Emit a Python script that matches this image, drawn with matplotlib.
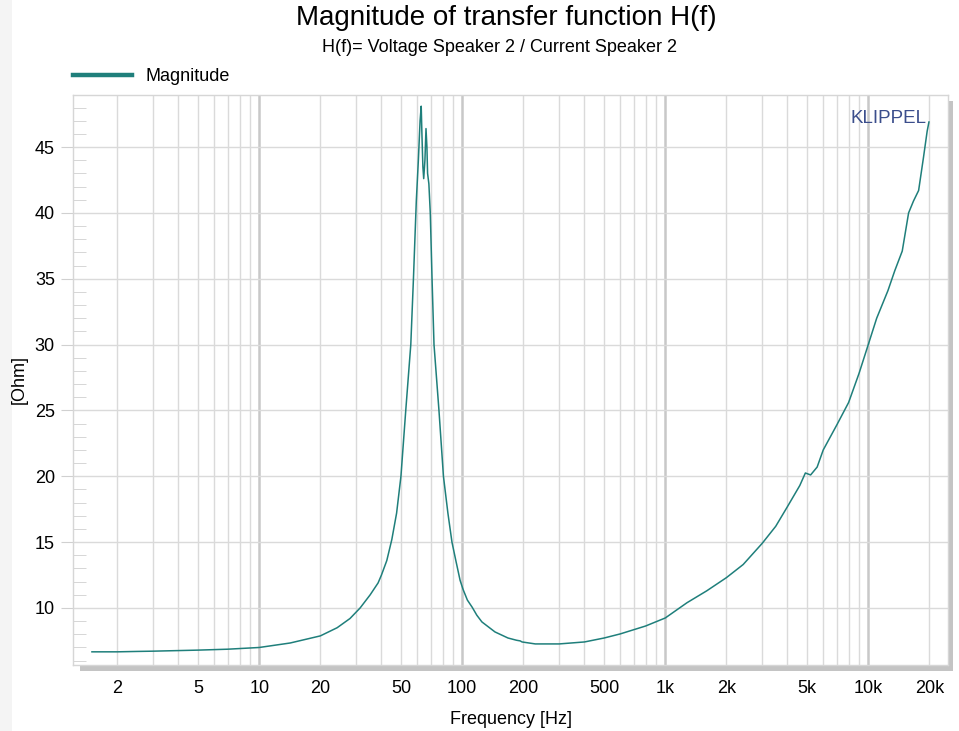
import matplotlib
matplotlib.use("Agg")
import matplotlib.pyplot as plt
from matplotlib.patches import Rectangle

plt.rcParams['font.family'] = ['Liberation Sans', 'DejaVu Sans']

# Impedance curve (Hz, Ohm)
freq = [1.5, 2, 2.5, 3, 5, 7, 10, 14.2, 20, 24.2, 28, 31.4, 35.2, 38.5, 40,
        42.5, 45, 47.5, 49.9, 52.7, 55.8, 57.5, 59.4, 60.8, 62, 62.8, 63.3, 64,
        64.6, 65.5, 66.3, 67, 67.5, 68.5, 69.6, 71, 72.6, 76.8, 80.8, 85, 89, 93,
        97.6, 101, 106, 112, 118, 125, 145, 168, 185, 193, 197, 229, 300, 400,
        500, 600, 800, 1000, 1280, 1600, 2000, 2420, 3000, 3500, 4000, 4600,
        4900, 5200, 5600, 6000, 7000, 8000, 9000, 10000, 11000, 12500, 13500,
        14700, 15800, 16700, 17700, 18700, 19500, 19900]
magnitude = [6.67, 6.67, 6.7, 6.72, 6.8, 6.87, 7.0, 7.34, 7.88, 8.5, 9.2, 10.0,
             11.0, 11.9, 12.5, 13.6, 15.2, 17.2, 20.0, 25.0, 30.0, 35.0, 40.9,
             44.0, 47.0, 48.1, 46.0, 43.5, 42.6, 44.0, 46.4, 45.0, 43.0, 42.2,
             40.0, 35.0, 30.0, 25.0, 20.0, 17.2, 15.0, 13.6, 12.1, 11.4, 10.6,
             10.05, 9.45, 8.94, 8.18, 7.72, 7.55, 7.5, 7.42, 7.27, 7.27, 7.42,
             7.72, 8.03, 8.63, 9.24, 10.4, 11.3, 12.3, 13.3, 14.9, 16.2, 17.7,
             19.3, 20.25, 20.1, 20.7, 22.0, 23.9, 25.6, 27.8, 30.0, 32.0, 34.1,
             35.6, 37.1, 40.0, 40.9, 41.7, 44.2, 46.2, 46.9]

xtick_vals = [2, 5, 10, 20, 50, 100, 200, 500, 1000, 2000, 5000, 10000, 20000]
xtick_labels = ['2', '5', '10', '20', '50', '100', '200', '500', '1k', '2k', '5k', '10k', '20k']
ytick_vals = [10, 15, 20, 25, 30, 35, 40, 45]

fig = plt.figure(figsize=(9.59, 7.31), dpi=100)
W, H = 959, 731

# light strip on the left and the drop shadow of the plot frame
fig.patches.append(Rectangle((0, 0), 12 / W, 1, transform=fig.transFigure,
                             facecolor='#f4f4f4', edgecolor='none', zorder=-2))
fig.patches.append(Rectangle((80 / W, 1 - 671 / H), (953 - 80) / W, (671 - 101) / H,
                             transform=fig.transFigure, facecolor='#c4c4c4',
                             edgecolor='none', zorder=-1))

ax = fig.add_axes([73 / W, 1 - 665 / H, (948 - 73) / W, (665 - 95) / H])
ax.set_facecolor('white')

ax.plot(freq, magnitude, color='#1f7f7b', lw=1.1, label='Magnitude')

ax.set_xscale('log')
ax.set_xlim(1.21, 24700)
ax.set_ylim(5.67, 48.95)

# grid lines
minor_x = [m * 10 ** d for d in range(0, 5) for m in range(1, 10)]
minor_x = [v for v in minor_x if 1.21 < v < 24700]
ax.set_xticks(minor_x, minor=True)
ax.set_xticks(xtick_vals)
ax.set_xticklabels(xtick_labels)
ax.tick_params(axis='x', which='both', length=0, pad=11, labelsize=13)
for v in minor_x:
    if v in (10, 100, 1000, 10000):
        ax.axvline(v, color='#c8c8c8', lw=1.8, zorder=0.5)
    else:
        ax.axvline(v, color='#dadada', lw=1.0, zorder=0.5)

ax.set_yticks(ytick_vals)
ax.set_yticks(range(6, 49), minor=True)
ax.tick_params(axis='y', which='major', direction='out', length=9, color='#d0d0d0',
               pad=4, labelsize=13)
ax.tick_params(axis='y', which='minor', direction='in', length=9, color='#d0d0d0')
for v in ytick_vals:
    ax.axhline(v, color='#dadada', lw=1.0, zorder=0.5)

for s in ax.spines.values():
    s.set_color('#d6d6d6')
    s.set_linewidth(1.0)

ax.set_xlabel('Frequency [Hz]', fontsize=13, labelpad=10)
ax.set_ylabel('[Ohm]', fontsize=13, labelpad=5)

ax.text(0.976, 0.958, 'KLIPPEL', transform=ax.transAxes, ha='right', va='center',
        fontsize=13.5, color='#3b4e8c')

ax.legend(loc='lower left', bbox_to_anchor=(0.0, 1.0175), frameon=False,
          handlelength=3.25, handletextpad=0.75, borderaxespad=0.0, borderpad=0.0,
          fontsize=13)
leg = ax.get_legend()
for line in leg.get_lines():
    line.set_linewidth(3.2)

fig.text(506 / W, 1 - 18 / H, 'Magnitude of transfer function H(f)', ha='center',
         va='center', fontsize=20)
fig.text(499 / W, 1 - 48 / H, 'H(f)= Voltage Speaker 2 / Current Speaker 2',
         ha='center', va='center', fontsize=13)

fig.savefig('out.png', dpi=100)
